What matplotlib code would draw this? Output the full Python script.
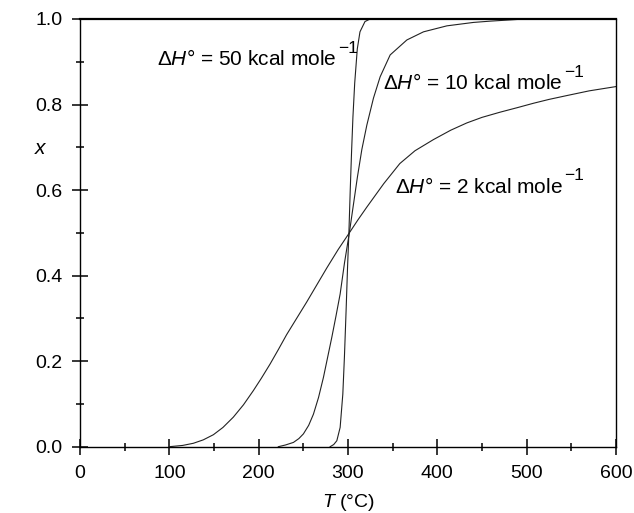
import matplotlib
matplotlib.use("Agg")
import matplotlib.pyplot as plt
from matplotlib.ticker import MultipleLocator

plt.rcParams['font.family'] = ['Liberation Sans', 'DejaVu Sans']
plt.rcParams['mathtext.fontset'] = 'custom'
plt.rcParams['mathtext.rm'] = 'Liberation Sans'
plt.rcParams['mathtext.it'] = 'Liberation Sans:italic'
plt.rcParams['mathtext.sf'] = 'Liberation Sans'

# Data
T_2 = [100, 115, 126.9, 138, 149.3, 160, 171.6, 183, 194, 203, 212.7, 222, 231.3,
       242.5, 253.7, 265, 276.3, 289, 301.5, 311, 321, 340, 358, 375, 395.6, 415,
       433, 450, 470, 490, 507.6, 525, 545, 570, 600]
x_2 = [0.0, 0.003, 0.008, 0.016, 0.028, 0.045, 0.069, 0.098, 0.131, 0.16, 0.193, 0.227, 0.262,
       0.3, 0.338, 0.378, 0.418, 0.461, 0.5, 0.53, 0.56, 0.615, 0.662, 0.692, 0.718, 0.74,
       0.757, 0.77, 0.782, 0.793, 0.803, 0.812, 0.821, 0.832, 0.842]

T_10 = [222, 230, 238.9, 245, 250.1, 256, 261.3, 267, 272.5, 277, 281.9, 286.5, 291.2,
        296.1, 301.5, 306, 310.5, 315.5, 321.1, 328.5, 336, 347.2, 365.9, 384.5, 410.7,
        440.5, 459.2, 490, 600]
x_10 = [0.0, 0.004, 0.010, 0.019, 0.030, 0.05, 0.076, 0.115, 0.162, 0.207, 0.256, 0.305, 0.357,
        0.43, 0.5, 0.565, 0.63, 0.695, 0.752, 0.815, 0.865, 0.916, 0.951, 0.970, 0.984,
        0.992, 0.995, 0.999, 1.0]

T_50 = [280, 284, 287.5, 291.2, 294.2, 296, 297.9, 299.5, 301, 302.5, 304, 305.5,
        307.5, 310.4, 313.4, 319, 324.7, 600]
x_50 = [0.0, 0.005, 0.014, 0.045, 0.123, 0.21, 0.32, 0.42, 0.5, 0.6, 0.69, 0.77,
        0.85, 0.93, 0.97, 0.994, 1.0, 1.0]

label_main = [r'$\Delta\mathit{H}$° = 50 kcal mole',
              r'$\Delta\mathit{H}$° = 10 kcal mole',
              r'$\Delta\mathit{H}$° = 2 kcal mole']
label_sup = '−1'
label_T = [86.2, 339.5, 352.6]
label_x = [0.892, 0.836, 0.594]

fig = plt.figure(figsize=(6.34, 5.13), dpi=100)
ax = fig.add_axes([80/634, 1-446.7/513, (616-80)/634, (446.7-19)/513])

for T, x in [(T_2, x_2), (T_10, x_10), (T_50, x_50)]:
    ax.plot(T, x, color='#222222', lw=0.8)

ax.set_xlim(0, 600)
ax.set_ylim(0, 1.0)
ax.xaxis.set_major_locator(MultipleLocator(100))
ax.xaxis.set_minor_locator(MultipleLocator(50))
ax.yaxis.set_major_locator(MultipleLocator(0.2))
ax.yaxis.set_minor_locator(MultipleLocator(0.1))
ax.set_yticklabels([f'{v:.1f}' for v in ax.get_yticks()])
ax.tick_params(which='major', direction='inout', length=11, width=1.1, labelsize=14, color='black')
ax.tick_params(axis='x', which='major', pad=8)
ax.tick_params(axis='y', which='major', pad=7)
ax.tick_params(which='minor', direction='inout', length=5.5, width=1.1, color='black')
for s in ['left', 'bottom', 'right']:
    ax.spines[s].set_linewidth(1.0)
ax.spines['top'].set_linewidth(1.6)

ax.set_xlabel(r'$T$ (°C)', fontsize=14, labelpad=7)
ax.set_ylabel(r'$x$', fontsize=15, rotation=0)
ax.yaxis.set_label_coords(-0.072, 0.675)

for txt, tx, ty in zip(label_main, label_T, label_x):
    t = ax.text(tx, ty, txt, fontsize=15, va='baseline', ha='left')
    ax.annotate(label_sup, xy=(1, 1), xycoords=t, xytext=(1.0, 6),
                textcoords='offset points', fontsize=12.5, ha='left', va='top')

fig.savefig('out.png', dpi=100)
